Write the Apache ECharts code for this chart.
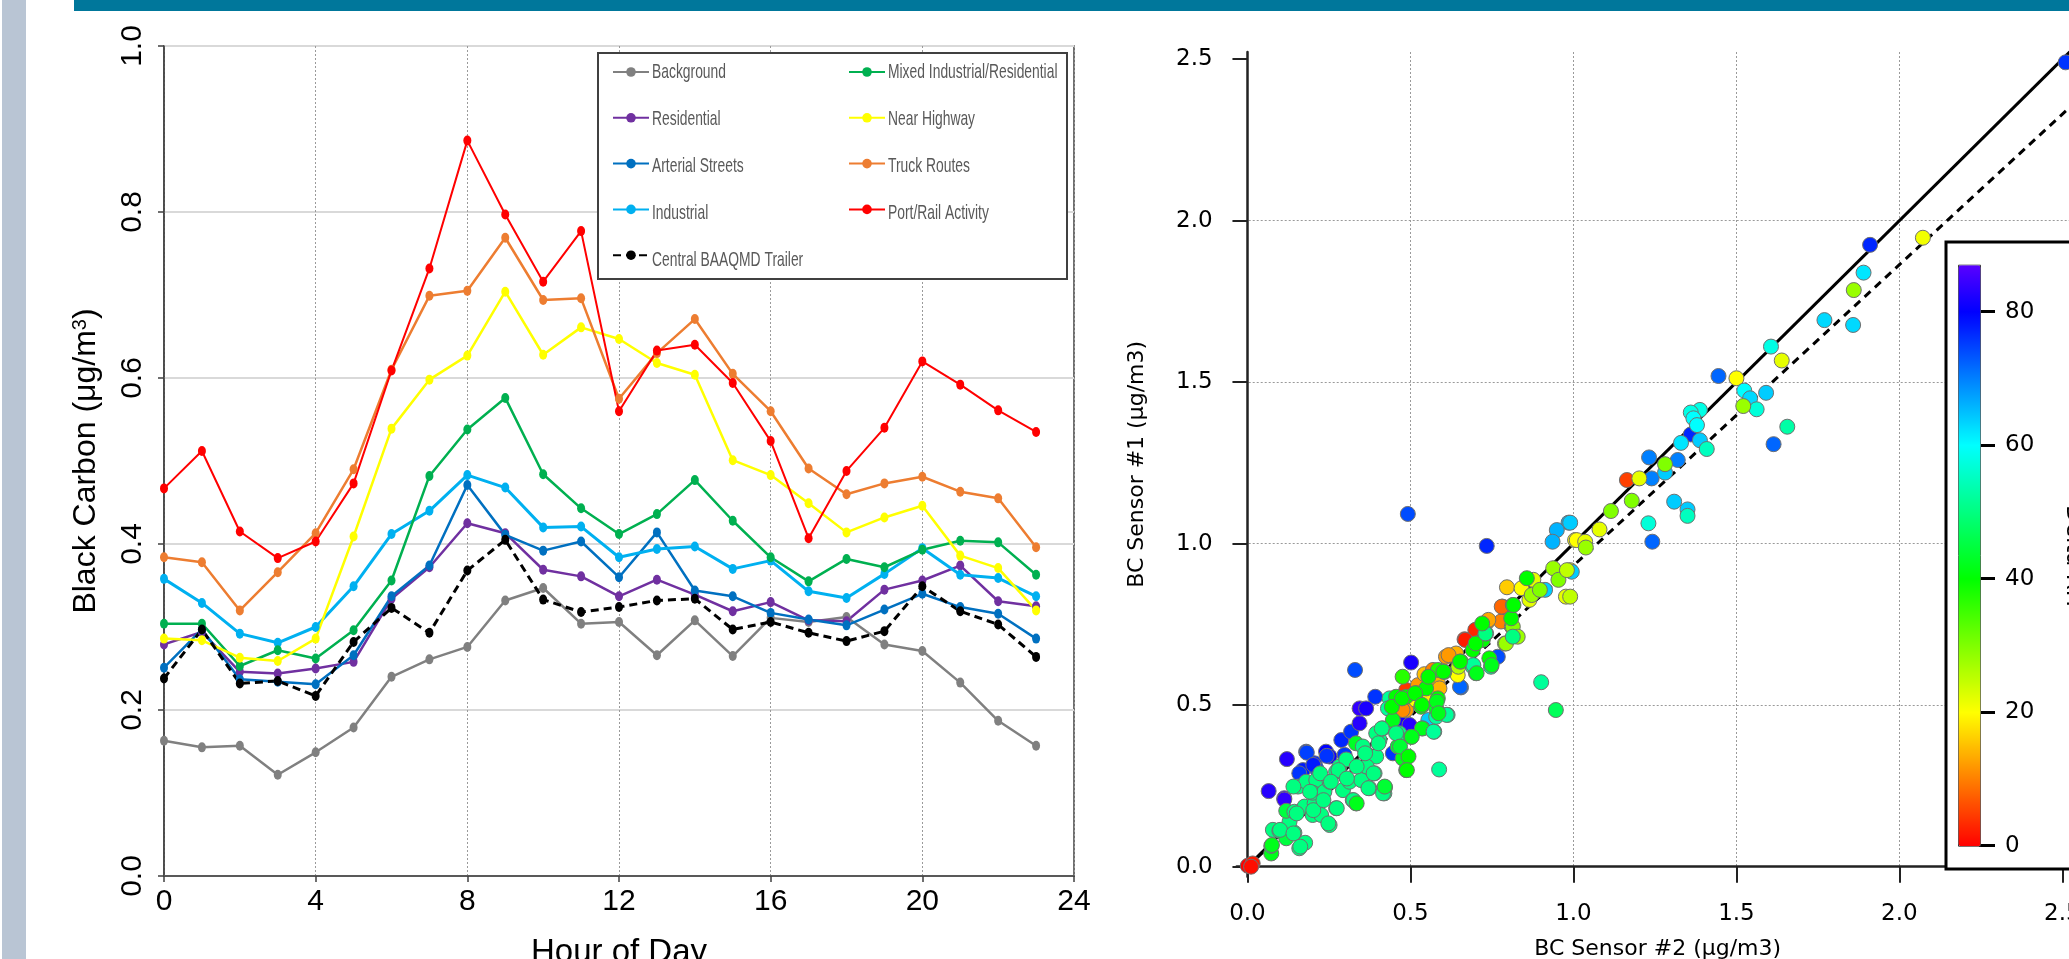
<!DOCTYPE html>
<html><head><meta charset="utf-8">
<script src="https://cdn.jsdelivr.net/npm/echarts@6/dist/echarts.min.js"></script>
<style>html,body{margin:0;padding:0;background:#fff;overflow:hidden}#c{width:2069px;height:959px}</style>
</head><body><div id="c"></div>
<script>
// ---------------- Left panel data (Black Carbon by hour) ----------------
const hours = [0,1,2,3,4,5,6,7,8,9,10,11,12,13,14,15,16,17,18,19,20,21,22,23];
const hourTicks = [0,4,8,12,16,20,24];
const background   = [0.163,0.155,0.157,0.122,0.149,0.179,0.240,0.261,0.276,0.332,0.347,0.304,0.306,0.266,0.308,0.265,0.311,0.306,0.312,0.279,0.271,0.233,0.187,0.157];
const residential  = [0.279,0.294,0.246,0.244,0.250,0.258,0.334,0.372,0.425,0.413,0.369,0.361,0.337,0.357,0.339,0.319,0.330,0.308,0.307,0.345,0.356,0.374,0.331,0.325];
const arterial     = [0.251,0.297,0.237,0.234,0.231,0.266,0.337,0.374,0.471,0.411,0.392,0.403,0.360,0.414,0.344,0.337,0.317,0.309,0.302,0.321,0.340,0.324,0.316,0.286];
const industrial   = [0.358,0.329,0.292,0.281,0.300,0.349,0.412,0.440,0.483,0.468,0.420,0.421,0.384,0.394,0.397,0.370,0.380,0.343,0.335,0.364,0.395,0.363,0.359,0.337];
const centralTrailer = [0.238,0.297,0.232,0.235,0.217,0.282,0.323,0.293,0.368,0.405,0.333,0.318,0.324,0.332,0.334,0.297,0.306,0.293,0.283,0.295,0.349,0.319,0.303,0.264];
const mixedIndRes  = [0.304,0.304,0.253,0.272,0.262,0.296,0.356,0.482,0.538,0.576,0.484,0.443,0.412,0.436,0.477,0.428,0.384,0.355,0.382,0.372,0.393,0.404,0.402,0.363];
const nearHighway  = [0.286,0.284,0.263,0.259,0.286,0.409,0.539,0.598,0.627,0.704,0.628,0.661,0.647,0.618,0.604,0.501,0.483,0.449,0.414,0.432,0.446,0.386,0.371,0.320];
const truckRoutes  = [0.384,0.378,0.320,0.366,0.413,0.490,0.610,0.699,0.705,0.769,0.694,0.696,0.575,0.630,0.671,0.605,0.560,0.491,0.460,0.473,0.481,0.463,0.455,0.396];
const portRail     = [0.467,0.512,0.415,0.383,0.403,0.473,0.609,0.732,0.886,0.797,0.716,0.777,0.560,0.633,0.640,0.594,0.524,0.407,0.488,0.540,0.620,0.592,0.561,0.535];
const legendCol1 = ['Background','Residential','Arterial Streets','Industrial','Central BAAQMD Trailer'];
const legendCol2 = ['Mixed Industrial/Residential','Near Highway','Truck Routes','Port/Rail Activity'];

// ---------------- Right panel data (sensor comparison) ----------------
const sensorTicks = [0,0.5,1,1.5,2,2.5];
const rhTicks = [0,20,40,60,80];
const oneToOneLine = [[0,0],[2.7,2.7]];
const fitLine = [[0,0],[2.7,2.516]];
// [BC Sensor #2, BC Sensor #1, Delta RH]
const pointsBluePurple = [
[0.065,0.234,83],[0.113,0.212,85],[0.121,0.333,83],[0.180,0.356,75],[0.206,0.320,77],[0.170,0.299,78],
[0.241,0.356,80],[0.252,0.341,81],[0.211,0.304,74],[0.288,0.392,77],[0.318,0.418,76],[0.344,0.444,83],
[0.344,0.490,84],[0.364,0.490,82],[0.392,0.526,76],[0.330,0.609,74],[0.502,0.632,82],[0.471,0.442,82],
[0.497,0.439,83],[0.446,0.351,76],[0.159,0.289,76],[0.298,0.346,76],[0.655,0.555,72],[0.768,0.650,74],
[0.652,0.557,72],[0.492,1.092,74],[0.734,0.993,77],[1.445,1.519,72],[1.910,1.925,77],[2.51,2.49,76],
[1.614,1.308,72],[1.242,1.006,72],[1.232,1.267,70],[1.320,1.259,70],[1.240,1.202,70],[1.360,1.338,77],
[0.113,0.208,84],[0.182,0.353,75],[0.202,0.315,78],[0.243,0.343,76]
];
const pointsRedYellow = [
[0.001,0.003,0],[0.016,0.010,2],[0.011,0.000,1],[0.487,0.485,12],[0.476,0.485,11],[0.487,0.547,4],[0.523,0.562,12],
[0.543,0.596,15],[0.569,0.609,10],[0.584,0.568,14],[0.589,0.552,14],[0.517,0.516,20],[0.553,0.516,19],
[0.609,0.650,12],[0.640,0.660,14],[0.645,0.593,20],[0.666,0.704,4],[0.701,0.733,10],[0.737,0.759,13],
[0.778,0.759,10],[0.783,0.805,3],[0.796,0.865,16],[0.841,0.862,20],[0.780,0.805,8],[0.739,0.764,13],
[0.699,0.733,3],[0.668,0.702,2],[0.617,0.655,12],[0.877,0.888,22],[0.977,0.836,22],[0.865,0.826,22],
[1.005,1.011,20],[1.010,1.011,20],[1.036,1.006,22],[1.080,1.044,22],[1.164,1.197,5],[1.202,1.202,22],
[1.500,1.512,20],[1.639,1.567,22],[2.072,1.947,21],[0.990,0.918,20]
];
const pointsCyan = [
[0.985,1.065,66],[0.949,1.042,66],[0.936,1.006,66],[0.913,0.857,64],[0.995,0.913,64],[0.990,1.065,64],
[1.309,1.130,64],[1.350,1.106,64],[1.350,1.086,55],[1.230,1.063,57],[1.281,1.220,64],[1.388,1.414,58],
[1.360,1.406,58],[1.368,1.388,60],[1.379,1.367,60],[1.388,1.320,64],[1.330,1.312,62],[1.409,1.293,55],
[1.524,1.474,60],[1.591,1.467,64],[1.542,1.450,63],[1.562,1.416,57],[1.656,1.362,53],[1.606,1.610,58],
[1.770,1.692,63],[1.858,1.677,63],[1.890,1.839,62],[0.555,0.454,64]
];
const pointsYellowGreen = [
[0.990,0.836,25],[1.038,0.988,28],[1.115,1.101,30],[1.179,1.133,30],[1.281,1.246,30],[1.521,1.426,28],
[1.860,1.785,28],[0.872,0.841,28],[0.897,0.857,30],[0.938,0.924,28],[0.954,0.888,30],[0.980,0.918,25],
[0.811,0.743,30],[0.790,0.691,28],[0.793,0.691,28],[0.814,0.743,30],[0.829,0.712,28],[0.647,0.619,26]
];
const pointsGreen = [
[0.073,0.041,42],[0.073,0.064,48],[0.078,0.114,50],[0.098,0.111,50],[0.119,0.088,45],[0.144,0.105,50],
[0.159,0.057,50],[0.177,0.074,50],[0.129,0.139,50],[0.119,0.173,45],[0.144,0.170,50],[0.175,0.186,50],
[0.155,0.248,50],[0.200,0.160,50],[0.206,0.196,50],[0.226,0.160,50],[0.252,0.129,50],[0.272,0.181,50],
[0.180,0.263,50],[0.211,0.268,50],[0.200,0.229,50],[0.236,0.232,50],[0.252,0.263,50],[0.272,0.294,50],
[0.282,0.310,50],[0.293,0.237,50],[0.313,0.263,50],[0.323,0.206,50],[0.333,0.196,42],[0.349,0.268,50],
[0.374,0.243,50],[0.390,0.289,50],[0.420,0.227,50],[0.422,0.246,44],[0.364,0.351,50],[0.303,0.332,50],
[0.333,0.382,43],[0.354,0.372,50],[0.395,0.341,50],[0.405,0.392,50],[0.415,0.428,50],[0.395,0.413,50],
[0.466,0.413,50],[0.461,0.372,44],[0.476,0.335,42],[0.487,0.299,40],[0.502,0.402,43],[0.538,0.428,45],
[0.573,0.418,52],[0.579,0.464,52],[0.614,0.470,52],[0.588,0.301,52],[0.436,0.521,52],[0.431,0.490,52],
[0.446,0.454,42],[0.456,0.526,40],[0.487,0.526,40],[0.517,0.537,38],[0.533,0.495,40],[0.548,0.552,40],
[0.584,0.521,40],[0.579,0.490,42],[0.604,0.603,38],[0.584,0.609,38],[0.476,0.588,37],[0.655,0.635,38],
[0.691,0.619,52],[0.701,0.599,42],[0.742,0.645,40],[0.747,0.619,52],[0.691,0.671,40],[0.722,0.702,40],
[0.732,0.722,52],[0.809,0.769,40],[0.814,0.810,40],[0.814,0.712,50],[0.857,0.893,40],[0.816,0.810,40],
[0.693,0.624,52],[0.749,0.624,42],[0.703,0.599,42],[0.535,0.428,42],[0.504,0.402,42],[0.611,0.470,52],
[0.901,0.571,52],[0.946,0.485,47],[0.075,0.067,42],[0.100,0.114,50],[0.141,0.103,50],[0.162,0.062,50],
[0.151,0.165,50],[0.202,0.175,50],[0.248,0.134,50],[0.274,0.181,50],[0.325,0.206,50],[0.335,0.196,42],
[0.371,0.243,50],[0.416,0.227,50],[0.421,0.248,44],[0.366,0.310,50],[0.387,0.289,50],[0.279,0.299,50],
[0.223,0.289,50],[0.192,0.232,50],[0.141,0.248,50],[0.233,0.206,50],[0.256,0.263,50],[0.305,0.273,50],
[0.335,0.310,50],[0.361,0.351,50],[0.402,0.382,50],[0.412,0.428,50],[0.456,0.413,50],[0.468,0.372,44],
[0.494,0.341,40],[0.489,0.299,40],[0.443,0.495,40],[0.474,0.521,40],[0.514,0.537,40],[0.535,0.501,40],
[0.581,0.511,42],[0.586,0.475,42],[0.571,0.418,52],[0.555,0.588,40],[0.601,0.604,40],[0.652,0.635,40],
[0.700,0.691,40],[0.730,0.722,50],[0.720,0.753,40]
];
const scatterRows = [].concat(pointsBluePurple, pointsRedYellow, pointsCyan, pointsYellowGreen, pointsGreen);

// ---------------- styles ----------------
function hueHex(h){
  const f = n => { const k = (n + h/60) % 6; return Math.round(255*(1 - Math.max(0, Math.min(k, 4-k, 1)))); };
  return '#' + [f(5),f(3),f(1)].map(v => v.toString(16).padStart(2,'0')).join('');
}
const rainbow = []; for (let v = 0; v <= 87; v++) rainbow.push(hueHex(3*v));

const ARIAL = "'Liberation Sans', Arial, sans-serif";
const LUCIDA = "'DejaVu Sans', sans-serif";

const lineDefs = [
  ['Background', background, '#808080', 2.5, 'solid'],
  ['Residential', residential, '#7030A0', 2.5, 'solid'],
  ['Arterial Streets', arterial, '#0070C0', 2.5, 'solid'],
  ['Industrial', industrial, '#00B0F0', 3, 'solid'],
  ['Mixed Industrial/Residential', mixedIndRes, '#00B050', 2.5, 'solid'],
  ['Near Highway', nearHighway, '#FFFF00', 2.5, 'solid'],
  ['Truck Routes', truckRoutes, '#ED7D31', 2.5, 'solid'],
  ['Port/Rail Activity', portRail, '#FF0000', 2, 'solid'],
  ['Central BAAQMD Trailer', centralTrailer, '#000000', 3, [8,5]]
];
const lineSeries = lineDefs.map(d => ({
  name: d[0], type: 'line', xAxisIndex: 0, yAxisIndex: 0,
  data: hours.map((h,i) => [h, d[1][i]]),
  symbol: 'circle', symbolSize: [8,10], showSymbol: true,
  itemStyle: { color: d[2] },
  lineStyle: { color: d[2], width: d[3], type: d[4] },
  emphasis: { disabled: true }, animation: false
}));

// legend labels drawn as condensed text next to the library's legend icons
const legendRowY = [72, 119, 166, 213, 260];
const legendTexts = [];
legendCol1.forEach((t,i) => legendTexts.push({ type: 'text', z: 7, x: 652, y: legendRowY[i], scaleX: 0.66,
  style: { text: t, font: "21px 'Liberation Sans', Arial, sans-serif", fill: '#595959', textVerticalAlign: 'middle' } }));
legendCol2.forEach((t,i) => legendTexts.push({ type: 'text', z: 7, x: 888, y: legendRowY[i], scaleX: 0.66,
  style: { text: t, font: "21px 'Liberation Sans', Arial, sans-serif", fill: '#595959', textVerticalAlign: 'middle' } }));

const chart = echarts.init(document.getElementById('c'), null, { renderer: 'canvas' });
chart.setOption({
  animation: false,
  backgroundColor: '#ffffff',
  textStyle: { fontFamily: ARIAL },
  grid: [
    { left: 164, top: 46, width: 910, height: 830, show: true, borderColor: '#404040', borderWidth: 1.5,
      backgroundColor: 'transparent', containLabel: false, outerBoundsMode: 'none' },
    { left: 1236.7, top: 52, width: 842, height: 824.7, containLabel: false, outerBoundsMode: 'none' },
    { left: 1979, top: 311.7, width: 1, height: 534, containLabel: false, outerBoundsMode: 'none' }
  ],
  xAxis: [
    { type: 'value', gridIndex: 0, min: 0, max: 24, interval: 4,
      axisLine: { lineStyle: { color: '#595959', width: 2 } },
      axisTick: { length: 6, lineStyle: { color: '#404040', width: 1.5 } },
      axisLabel: { fontSize: 30, color: '#000', fontFamily: ARIAL, margin: 11 },
      splitLine: { show: true, lineStyle: { color: '#9a9a9a', width: 1, type: [2,2] } },
      name: 'Hour of Day', nameLocation: 'middle', nameGap: 60,
      nameTextStyle: { fontSize: 33, color: '#000', fontFamily: ARIAL } },
    { type: 'value', gridIndex: 1, min: -0.033, max: 2.55,
      axisLine: { lineStyle: { color: '#222', width: 2.5 } },
      axisTick: { length: 16, customValues: sensorTicks, lineStyle: { color: '#222', width: 2 } },
      axisLabel: { customValues: sensorTicks, fontSize: 23, color: '#000', fontFamily: LUCIDA, margin: 26,
                   formatter: v => Number(v).toFixed(1) },
      splitLine: { show: true, showMinLine: false, showMaxLine: false, lineStyle: { color: '#9a9a9a', width: 1, type: [2,2] } },
      name: 'BC Sensor #2 (μg/m3)', nameLocation: 'middle', nameGap: 62,
      nameTextStyle: { fontSize: 22, color: '#000', fontFamily: LUCIDA } },
    { type: 'value', gridIndex: 2, min: 0, max: 1, show: false }
  ],
  yAxis: [
    { type: 'value', gridIndex: 0, min: 0, max: 1, interval: 0.2,
      axisLine: { show: true, lineStyle: { color: '#404040', width: 1.5 } },
      axisTick: { show: true, length: 6, lineStyle: { color: '#404040', width: 1.5 } },
      axisLabel: { rotate: 90, fontSize: 30, color: '#000', fontFamily: ARIAL, margin: 16,
                   formatter: v => Number(v).toFixed(1) },
      splitLine: { show: true, lineStyle: { color: '#d9d9d9', width: 2 } },
      name: 'Black Carbon (μg/m{sup|3})', nameLocation: 'middle', nameGap: 62, nameRotate: 90,
      nameTextStyle: { fontSize: 32, color: '#000', fontFamily: ARIAL,
                       rich: { sup: { fontSize: 20, verticalAlign: 'top', fontFamily: ARIAL, color: '#000' } } } },
    { type: 'value', gridIndex: 1, min: -0.031, max: 2.522,
      axisLine: { show: true, lineStyle: { color: '#222', width: 2.5 } },
      axisTick: { show: true, length: 15, customValues: sensorTicks, lineStyle: { color: '#222', width: 2 } },
      axisLabel: { customValues: sensorTicks, fontSize: 23, color: '#000', fontFamily: LUCIDA, margin: 24,
                   formatter: v => Number(v).toFixed(1) },
      splitLine: { show: true, showMinLine: false, showMaxLine: false, lineStyle: { color: '#9a9a9a', width: 1, type: [2,2] } },
      name: 'BC Sensor #1 (μg/m3)', nameLocation: 'middle', nameGap: 88, nameRotate: 90,
      nameTextStyle: { fontSize: 22, color: '#000', fontFamily: LUCIDA } },
    { type: 'value', gridIndex: 2, position: 'right', min: 0, max: 80, interval: 20, z: 8,
      axisLine: { show: false },
      axisTick: { show: true, length: 16, lineStyle: { color: '#000', width: 3 } },
      axisLabel: { fontSize: 23, color: '#000', fontFamily: LUCIDA, margin: 25 },
      splitLine: { show: false } }
  ],
  legend: [
    { data: legendCol1, formatter: () => '',
      orient: 'vertical', left: 612, top: 66, itemGap: 35, itemWidth: 36, itemHeight: 12, padding: 0,
      selectedMode: false, z: 6, textStyle: { fontSize: 12 } },
    { data: legendCol2, formatter: () => '',
      orient: 'vertical', left: 848, top: 66, itemGap: 35, itemWidth: 36, itemHeight: 12, padding: 0,
      selectedMode: false, z: 6, textStyle: { fontSize: 12 } }
  ],
  visualMap: [{
    type: 'continuous', min: 0, max: 87, dimension: 2, seriesIndex: 11,
    calculable: false, orient: 'vertical', itemWidth: 22, itemHeight: 581,
    left: 1958, top: 264.7, padding: 0, text: null, z: 10,
    borderColor: '#333', borderWidth: 1,
    inRange: { color: rainbow }, hoverLink: false
  }],
  graphic: [
    { type: 'rect', z: 20, shape: { x: 74, y: 0, width: 1995, height: 11 }, style: { fill: '#00779b' } },
    { type: 'rect', z: 20, shape: { x: 2, y: 0, width: 24, height: 959 }, style: { fill: '#b9c5d4' } },
    { type: 'rect', z: 3, shape: { x: 598, y: 53, width: 469, height: 226 }, style: { fill: '#fff', stroke: '#404040', lineWidth: 2 } },
    { type: 'rect', z: 3, shape: { x: 1946, y: 242, width: 200, height: 627 }, style: { fill: '#fff', stroke: '#000', lineWidth: 3 } },
    { type: 'text', z: 9, x: 2073, y: 556, rotation: -Math.PI/2,
      style: { text: 'Delta RH', font: "23px 'DejaVu Sans', sans-serif", fill: '#000', textAlign: 'center', textVerticalAlign: 'middle' } }
  ].concat(legendTexts),
  series: lineSeries.concat([
    { type: 'line', xAxisIndex: 1, yAxisIndex: 1, data: oneToOneLine, showSymbol: false, symbol: 'none', z: 1,
      lineStyle: { color: '#000', width: 3 }, emphasis: { disabled: true } },
    { type: 'line', xAxisIndex: 1, yAxisIndex: 1, data: fitLine, showSymbol: false, symbol: 'none', z: 1,
      lineStyle: { color: '#000', width: 3, type: [8,6] }, emphasis: { disabled: true } },
    { type: 'scatter', xAxisIndex: 1, yAxisIndex: 1, data: scatterRows, symbolSize: 15, z: 3,
      itemStyle: { borderColor: '#707070', borderWidth: 1, opacity: 1 }, emphasis: { disabled: true } }
  ])
});
</script>
</body></html>
